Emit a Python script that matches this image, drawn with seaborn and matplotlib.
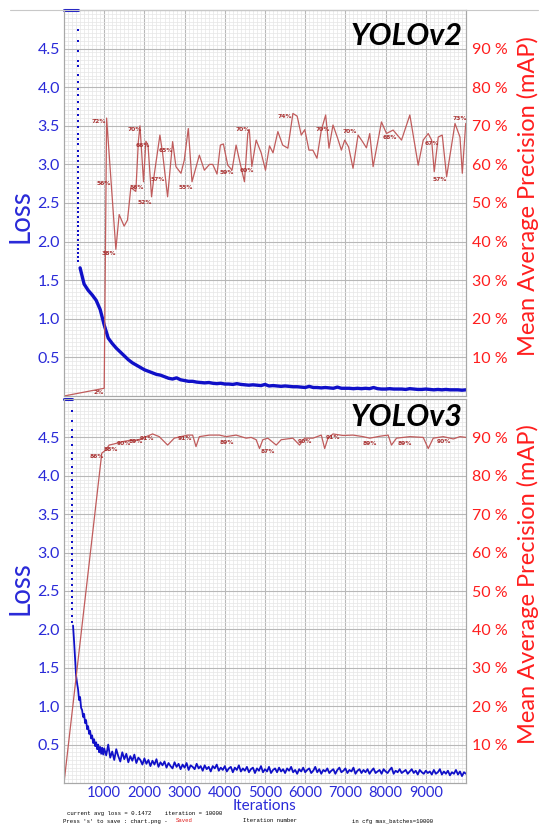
import numpy as np
import pandas as pd
import matplotlib
matplotlib.use("Agg")
import matplotlib.pyplot as plt
import seaborn as sns
from matplotlib.lines import Line2D
from matplotlib.ticker import MultipleLocator

# ---------------- values ----------------
LOSS_TOP = 5.0

# YOLOv2 loss, one value every 100 iterations starting at 400
v2_loss_start, v2_loss_step = 400, 100
v2_loss = [
    1.66, 1.45, 1.37, 1.31, 1.24, 1.12, 0.92, 0.75, 0.68, 0.62,
    0.57, 0.52, 0.47, 0.43, 0.40, 0.37, 0.34, 0.32, 0.30, 0.28,
    0.27, 0.25, 0.23, 0.22, 0.235, 0.21, 0.20, 0.19, 0.19, 0.18,
    0.175, 0.17, 0.175, 0.165, 0.16, 0.165, 0.155, 0.155, 0.15, 0.16,
    0.15, 0.145, 0.14, 0.145, 0.14, 0.135, 0.15, 0.13, 0.135, 0.13,
    0.125, 0.13, 0.125, 0.12, 0.12, 0.115, 0.11, 0.125, 0.11, 0.11,
    0.105, 0.11, 0.105, 0.10, 0.115, 0.10, 0.10, 0.10, 0.095, 0.10,
    0.095, 0.10, 0.095, 0.11, 0.095, 0.09, 0.09, 0.095, 0.09, 0.09,
    0.09, 0.085, 0.095, 0.09, 0.085, 0.085, 0.09, 0.085, 0.08, 0.085,
    0.08, 0.085, 0.08, 0.08, 0.08, 0.075, 0.08,
]
# first iterations: loss clipped at the top, then a column of dots
v2_clip_end = 340
v2_dot_iter = 340
v2_dot_loss = [
    4.74, 4.60, 4.47, 4.34, 4.27, 4.16, 4.07, 3.98, 3.90, 3.81,
    3.72, 3.64, 3.56, 3.48, 3.40, 3.33, 3.26, 3.18, 3.11, 3.04,
    2.97, 2.90, 2.83, 2.76, 2.70, 2.63, 2.56, 2.50, 2.44, 2.38,
    2.32, 2.26, 2.20, 2.14, 2.08, 2.02, 1.96, 1.90, 1.85, 1.80, 1.75,
]
v2_map_iters = [
    0, 1000, 1060, 1290, 1372, 1496, 1580, 1663, 1787, 1850, 1890, 1978,
    2037, 2090, 2178, 2244, 2386, 2452, 2577, 2702, 2785, 2910, 2990, 3092,
    3184, 3367, 3491, 3620, 3700, 3807, 3890, 3965, 4073, 4180, 4281, 4381,
    4489, 4572, 4610, 4672, 4780, 4905, 5012, 5112, 5200, 5320, 5440, 5569,
    5694, 5800, 5902, 5990, 6093, 6190, 6293, 6401, 6509, 6592, 6691, 6800,
    6900, 6983, 7080, 7190, 7315, 7420, 7523, 7606, 7689, 7897, 8022, 8187,
    8396, 8603, 8811, 8936, 9060, 9145, 9210, 9310, 9409, 9518, 9726, 9850,
    9908, 9993,
]
v2_map_vals = [
    0, 2, 72, 38, 47, 44, 45.6, 54, 53, 66, 70, 55.5,
    66, 65, 51.6, 57.3, 67.6, 63, 51.6, 65.9, 59.4, 57.7, 61, 69.3,
    55.5, 62.4, 58.5, 60, 60, 57.5, 65, 65.3, 59.8, 58.5, 65, 60.3,
    55.5, 68, 69, 59.4, 66.3, 63, 58.5, 64.8, 63, 68.5, 65, 64.2,
    73.2, 72.5, 67.6, 69, 63.7, 63.7, 61.6, 68.9, 72.8, 64.2, 70.2, 67,
    63.7, 66.3, 64.5, 59, 67.6, 66, 64.3, 68, 59.4, 71, 68, 68.9,
    66.3, 72.8, 59.8, 66.3, 68, 66.3, 58.1, 67.1, 67.6, 56.8, 70.6, 67.1,
    57.7, 70.6,
]
v2_lab_iters = [870, 870, 1000, 1120, 1770, 1950, 1820, 2000, 2320, 2540, 3020,
                4040, 4540, 4440, 5490, 6430, 7100, 8100, 9150, 9350, 9850]
v2_lab_vals = [1, 71, 55, 37, 69, 65, 54, 50, 56, 63.7, 54,
               57.8, 58.5, 69, 72.5, 69, 68.4, 67, 65.5, 56, 72]
v2_lab_text = ["2%", "72%", "56%", "38%", "70%", "66%", "56%", "52%", "57%", "65%", "55%",
               "59%", "60%", "70%", "74%", "70%", "70%", "68%", "67%", "57%", "73%"]

# YOLOv3 loss: every 25 iterations from 225, then every 50 from 1000
v3_early_start, v3_early_step = 225, 25
v3_loss_early = [
    2.05, 1.85, 1.62, 1.40, 1.30, 1.22, 1.08, 1.12, 0.98, 0.95,
    0.86, 0.90, 0.78, 0.82, 0.70, 0.74, 0.64, 0.68, 0.58, 0.62,
    0.52, 0.57, 0.48, 0.53, 0.44, 0.50, 0.40, 0.47, 0.38, 0.46, 0.37,
]
v3_loss_start, v3_loss_step = 1000, 50
v3_loss = [
    0.45, 0.36, 0.50, 0.33, 0.41, 0.30, 0.44, 0.35, 0.28, 0.40,
    0.31, 0.38, 0.27, 0.35, 0.29, 0.37, 0.26, 0.33, 0.30, 0.24,
    0.32, 0.25, 0.30, 0.22, 0.29, 0.24, 0.31, 0.21, 0.27, 0.23,
    0.28, 0.20, 0.26, 0.22, 0.19, 0.27, 0.21, 0.25, 0.18, 0.24,
    0.20, 0.26, 0.17, 0.23, 0.21, 0.18, 0.25, 0.19, 0.22, 0.16,
    0.23, 0.18, 0.21, 0.15, 0.22, 0.19, 0.24, 0.16, 0.20, 0.17,
    0.22, 0.15, 0.19, 0.21, 0.14, 0.20, 0.17, 0.23, 0.15, 0.19,
    0.16, 0.21, 0.14, 0.18, 0.20, 0.13, 0.19, 0.16, 0.22, 0.14,
    0.18, 0.15, 0.21, 0.13, 0.17, 0.19, 0.14, 0.20, 0.15, 0.18,
    0.13, 0.19, 0.16, 0.21, 0.14, 0.17, 0.12, 0.18, 0.15, 0.20,
    0.14, 0.17, 0.19, 0.13, 0.16, 0.21, 0.14, 0.18, 0.12, 0.17,
    0.15, 0.19, 0.13, 0.16, 0.18, 0.12, 0.17, 0.20, 0.14, 0.16,
    0.19, 0.13, 0.17, 0.15, 0.20, 0.12, 0.16, 0.18, 0.13, 0.17,
    0.14, 0.18, 0.12, 0.16, 0.19, 0.13, 0.15, 0.17, 0.12, 0.18,
    0.15, 0.13, 0.17, 0.20, 0.12, 0.16, 0.14, 0.18, 0.13, 0.15,
    0.17, 0.12, 0.15, 0.18, 0.13, 0.16, 0.11, 0.17, 0.14, 0.12,
    0.16, 0.13, 0.15, 0.11, 0.17, 0.12, 0.14, 0.18, 0.11, 0.15,
    0.12, 0.16, 0.10, 0.14, 0.12, 0.17, 0.11, 0.15, 0.09, 0.14,
    0.12,
]
v3_clip_end = 210
v3_dot_iter = 210
v3_dot_loss = [
    4.85, 4.72, 4.60, 4.50, 4.40, 4.30, 4.22, 4.12, 4.03, 3.95,
    3.86, 3.78, 3.70, 3.62, 3.54, 3.46, 3.38, 3.30, 3.22, 3.14,
    3.06, 2.98, 2.90, 2.82, 2.74, 2.66, 2.58, 2.50, 2.42, 2.34,
    2.26, 2.18, 2.10,
]
v3_map_iters = [
    0, 940, 1039, 1122, 1247, 1455, 1621, 1829, 1953, 2203, 2369, 2578,
    2743, 3076, 3200, 3284, 3367, 3616, 3865, 4032, 4281, 4531, 4656, 4780,
    4863, 4946, 5071, 5279, 5403, 5694, 5860, 5985, 6193, 6401, 6484, 6567,
    6691, 6940, 7190, 7439, 7606, 7855, 8063, 8146, 8271, 8603, 8936, 9061,
    9185, 9434, 9684, 9850, 10000,
]
v3_map_vals = [
    0, 85.9, 86.7, 88.0, 88.3, 88.9, 89.2, 89.3, 89.8, 90.9, 90.2, 88.0,
    89.8, 90.6, 90.6, 87.6, 90.2, 90.6, 90.6, 90.2, 90.6, 89.8, 90.0, 89.4,
    87.1, 89.4, 89.8, 88.0, 89.4, 89.8, 88.0, 89.8, 89.8, 90.6, 87.1, 89.8,
    90.9, 90.5, 90.6, 90.2, 89.8, 90.3, 90.6, 88.0, 89.8, 90.2, 90.0, 87.1,
    89.8, 90.2, 89.6, 90.2, 90.0,
]
v3_lab_iters = [820, 1170, 1480, 1780, 2060, 3020, 4060, 5060, 5990, 6680, 7600, 8480, 9450]
v3_lab_vals = [84.9, 86.9, 88.4, 88.9, 89.8, 89.6, 88.6, 86.2, 89.0, 90.0, 88.3, 88.3, 89.0]
v3_lab_text = ["86%", "88%", "90%", "89%", "91%", "91%", "89%", "87%", "90%", "91%",
               "89%", "89%", "90%"]

loss_ticks = [0.5, 1.0, 1.5, 2.0, 2.5, 3.0, 3.5, 4.0, 4.5]
map_ticks = [10, 20, 30, 40, 50, 60, 70, 80, 90]
iter_ticks = [1000, 2000, 3000, 4000, 5000, 6000, 7000, 8000, 9000]

BLUE_TXT = "#2a2ad8"
BLUE_LINE = "#1010c8"
RED_TXT = "#ff1e1e"
MAP_LINE = "#c05c5c"
MAP_LAB = "#a83030"

sns.set_style("white")
plt.rcParams["font.family"] = ["Lato", "DejaVu Sans"]

fig = plt.figure(figsize=(5.43, 8.27), dpi=100)
W, H = 543, 827
ax_top = fig.add_axes([64 / W, 1 - 396 / H, 402 / W, 386 / H])
ax_bot = fig.add_axes([64 / W, 1 - 783 / H, 402 / W, 384 / H])


def draw_panel(ax, loss_x, loss_y, loss_lw, clip_end, dot_iter, dot_loss,
               map_x, map_y, lab_x, lab_y, lab_t, title, title_y, loss_y_pos, show_x):
    ax.set_xlim(0, 10000)
    ax.set_ylim(0, LOSS_TOP)
    ax.set_xticks(iter_ticks)
    ax.set_yticks(loss_ticks)
    ax.xaxis.set_minor_locator(MultipleLocator(100))
    ax.yaxis.set_minor_locator(MultipleLocator(0.05))
    ax.grid(which="minor", color="#e6e6e6", lw=0.5)
    ax.grid(which="major", color="#b8b8b8", lw=0.8)
    ax.set_axisbelow(True)
    ax.tick_params(which="both", length=0)
    ax.tick_params(axis="y", colors=BLUE_TXT, labelsize=11.5, pad=3)
    ax.tick_params(axis="x", colors=BLUE_TXT, labelsize=10.5, pad=2)
    ax.set_yticklabels([f"{v:.1f}" for v in loss_ticks])
    if show_x:
        ax.set_xticklabels([str(v) for v in iter_ticks])
    else:
        ax.set_xticklabels([])
    for s in ax.spines.values():
        s.set_color("#a8a8a8")
        s.set_linewidth(0.8)

    # loss above the axis top, drawn along the upper edge
    ln = sns.lineplot(x=[0, clip_end], y=[LOSS_TOP, LOSS_TOP], ax=ax,
                      color=BLUE_LINE, lw=2.2, estimator=None)
    ln.lines[-1].set_clip_on(False)
    sns.scatterplot(x=[dot_iter] * len(dot_loss), y=dot_loss, ax=ax,
                    color=BLUE_LINE, s=3, marker="s", linewidth=0)
    sns.lineplot(x=loss_x, y=loss_y, ax=ax, color=BLUE_LINE, lw=loss_lw,
                 estimator=None, sort=False)

    ax2 = ax.twinx()
    ax2.set_ylim(0, 100)
    ax2.set_yticks(map_ticks)
    ax2.set_yticklabels([f"{v} %" for v in map_ticks])
    ax2.tick_params(length=0, colors=RED_TXT, labelsize=11.5, pad=4)
    for s in ax2.spines.values():
        s.set_color("#a8a8a8")
        s.set_linewidth(0.8)
    sns.lineplot(x=map_x, y=map_y, ax=ax2, color=MAP_LINE, lw=0.9,
                 estimator=None, sort=False)
    for xi, yi, t in zip(lab_x, lab_y, lab_t):
        ax2.text(xi, yi, t, fontsize=4.3, color=MAP_LAB, fontweight="bold",
                 ha="center", va="center", family="DejaVu Sans")
    ax2.set_ylabel("")
    ax.set_ylabel("")
    ax.set_xlabel("")

    ax.text(-0.108, loss_y_pos, "Loss", transform=ax.transAxes,
            rotation=90, ha="center", va="center", color=BLUE_TXT, fontsize=20)
    ax2.text(1.153, 0.517, "Mean Average Precision (mAP)", transform=ax2.transAxes,
             rotation=90, ha="center", va="center", color=RED_TXT, fontsize=17)
    ax2.text(0.992, title_y, title, transform=ax2.transAxes, ha="right", va="top",
             fontsize=22, fontweight="bold", fontstyle="italic", color="black")


v2_x = [v2_loss_start + i * v2_loss_step for i in range(len(v2_loss))]
v3_x = ([v3_early_start + i * v3_early_step for i in range(len(v3_loss_early))]
        + [v3_loss_start + i * v3_loss_step for i in range(len(v3_loss))])
v3_y = v3_loss_early + v3_loss

draw_panel(ax_top, v2_x, v2_loss, 2.4, v2_clip_end, v2_dot_iter, v2_dot_loss,
           v2_map_iters, v2_map_vals, v2_lab_iters, v2_lab_vals, v2_lab_text,
           "YOLOv2", 0.97, 0.466, False)
draw_panel(ax_bot, v3_x, v3_y, 1.3, v3_clip_end, v3_dot_iter, v3_dot_loss,
           v3_map_iters, v3_map_vals, v3_lab_iters, v3_lab_vals, v3_lab_text,
           "YOLOv3", 0.99, 0.508, True)

fig.text(265 / W, 1 - 806 / H, "Iterations", ha="center", va="center",
         color=BLUE_TXT, fontsize=11)

# darknet status lines under the chart
mono = dict(family="Liberation Mono", fontsize=4.1, va="center")
fig.text(67 / W, 1 - 814 / H, "current avg loss = 0.1472    iteration = 10000", color="black", **mono)
fig.text(63 / W, 1 - 821 / H, "Press 's' to save : chart.png -", color="black", **mono)
fig.text(176 / W, 1 - 821 / H, "Saved", color="#e02020", **mono)
fig.text(243 / W, 1 - 821 / H, "Iteration number", color="black", **mono)
fig.text(352 / W, 1 - 821 / H, "in cfg max_batches=10000", color="black", **mono)

fig.add_artist(Line2D([10 / W, 538 / W], [1 - 10 / H, 1 - 10 / H], color="#c8c8c8", lw=0.8))

fig.savefig("out.png", dpi=100)
